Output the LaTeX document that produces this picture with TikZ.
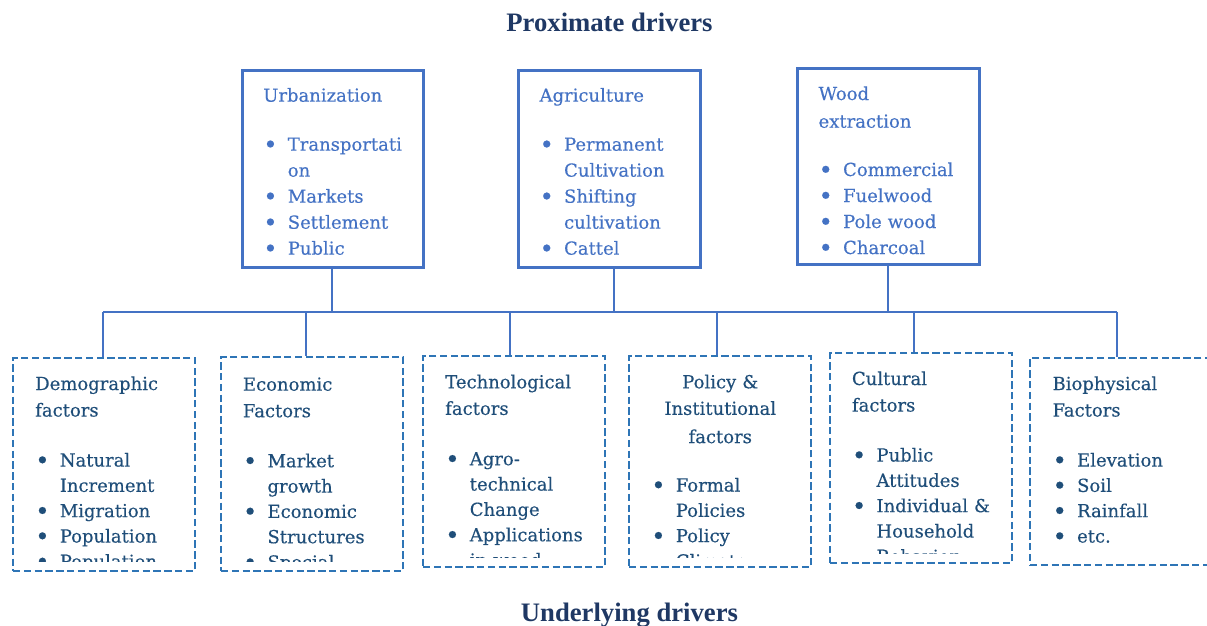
\documentclass[tikz,border=0pt]{standalone}
\usepackage{fontspec}
\setmainfont{DejaVu Serif}[RawFeature={embolden=0.35}]
\newfontfamily\headfont{Liberation Serif}

\definecolor{topblue}{HTML}{4472C4}
\definecolor{lowtext}{HTML}{1F4E79}
\definecolor{dashblue}{HTML}{2E75B6}
\definecolor{headblue}{HTML}{1F3864}

\def\pxu{0.75pt}
% bullet item, continuation line, centred heading line
\newcommand\itm[1]{\makebox[18.4pt][l]{\raisebox{-0.13em}{\scalebox{1.35}{\textbullet}}}#1}
\newcommand\cont[1]{\hspace*{18.4pt}#1}
\newcommand\ctr[1]{\makebox[\linewidth][c]{#1}}

\begin{document}
\begin{tikzpicture}[x=0.75pt,y=-0.75pt,
  topbox/.style={draw=topblue, line width=2.25pt, inner sep=0},
  lowbox/.style={draw=dashblue, line width=1.9pt, dash pattern=on 5.5pt off 2.6pt, inner sep=0},
  conn/.style={draw=topblue, line width=1.6pt},
  toptxt/.style={anchor=base west, inner sep=0, text width=127.5pt, align=left,
    font=\fontsize{13.5pt}{19.5pt}\selectfont, text=topblue},
  lowtxt/.style={anchor=base west, inner sep=0, text width=127.5pt, align=left,
    font=\fontsize{13.5pt}{19pt}\selectfont, text=lowtext},
  heading/.style={anchor=base, inner sep=0, text=headblue,
    font=\headfont\bfseries\fontsize{20pt}{24pt}\selectfont}]
\useasboundingbox (0,0) rectangle (1207,625);

% headings
\node[heading] (prox) at (609.5,31.7) {Proximate drivers};
\node[heading] (under) at (629.5,621.3) {Underlying drivers};

% proximate driver boxes
\node[topbox, minimum width=181*\pxu, minimum height=197*\pxu] (urb) at (332.5,168.5) {};
\node[topbox, minimum width=182*\pxu, minimum height=197*\pxu] (agr) at (609,168.5) {};
\node[topbox, minimum width=182*\pxu, minimum height=196*\pxu] (wood) at (888,166) {};

\node[toptxt] (urbtxt) at (263,101.7) {Urbanization\\[17.25pt]\itm{Transportati}\\\cont{on}\\\itm{Markets}\\\itm{Settlement}\\\itm{Public}};
\node[toptxt] (agrtxt) at (539.3,101.7) {Agriculture\\[17.25pt]\itm{Permanent}\\\cont{Cultivation}\\\itm{Shifting}\\\cont{cultivation}\\\itm{Cattel}};
\node[toptxt] (woodtxt) at (818.3,100) {Wood\\[1.3pt]extraction\\[16.7pt]\itm{Commercial}\\\itm{Fuelwood}\\\itm{Pole wood}\\\itm{Charcoal}};

% underlying driver boxes
\node[lowbox, minimum width=182*\pxu, minimum height=213*\pxu] (demo) at (104,464.5) {};
\node[lowbox, minimum width=182*\pxu, minimum height=214*\pxu] (econ) at (312,464) {};
\node[lowbox, minimum width=182*\pxu, minimum height=211*\pxu] (tech) at (514,461.5) {};
\node[lowbox, minimum width=182*\pxu, minimum height=211*\pxu] (pol) at (720,461.5) {};
\node[lowbox, minimum width=182*\pxu, minimum height=210*\pxu] (cult) at (921,458) {};
\node[lowbox, minimum width=182*\pxu, minimum height=207*\pxu] (bio) at (1121,461.5) {};

% box texts, cut off above the lower border
\begin{scope}
  \clip (demo.north west) rectangle ([yshift=8.25pt]demo.south east);
  \node[lowtxt] (demotxt) at (35,390) {Demographic\\[0.9pt]factors\\[18.5pt]\itm{Natural}\\\cont{Increment}\\\itm{Migration}\\\itm{Population}\\\itm{Population}};
\end{scope}
\begin{scope}
  \clip (econ.north west) rectangle ([yshift=8.25pt]econ.south east);
  \node[lowtxt] (econtxt) at (242.7,390.7) {Economic\\[0.9pt]Factors\\[18.5pt]\itm{Market}\\\cont{growth}\\\itm{Economic}\\\cont{Structures}\\\itm{Special}};
\end{scope}
\begin{scope}
  \clip (tech.north west) rectangle ([yshift=8.25pt]tech.south east);
  \node[lowtxt] (techtxt) at (445,388.3) {Technological\\[0.9pt]factors\\[18.8pt]\itm{Agro-}\\\cont{technical}\\\cont{Change}\\\itm{Applications}\\\cont{in wood}};
\end{scope}
\begin{scope}
  \clip (pol.north west) rectangle ([yshift=8.25pt]pol.south east);
  \node[lowtxt, text width=103.5pt] (poltxt) at (651,388.3) {\ctr{Policy \&}\\[0.9pt]\ctr{Institutional}\\[2.2pt]\ctr{factors}\\[17.3pt]\itm{Formal}\\\cont{Policies}\\\itm{Policy}\\\cont{Climate}};
\end{scope}
\begin{scope}
  \clip (cult.north west) rectangle ([yshift=8.25pt]cult.south east);
  \node[lowtxt] (culttxt) at (851.7,385) {Cultural\\[0.9pt]factors\\[18.5pt]\itm{Public}\\\cont{Attitudes}\\\itm{Individual \&}\\\cont{Household}\\\cont{Behavior}};
\end{scope}
\begin{scope}
  \clip (bio.north west) rectangle ([yshift=8.25pt]bio.south east);
  \node[lowtxt] (biotxt) at (1052.3,390) {Biophysical\\[0.9pt]Factors\\[18.5pt]\itm{Elevation}\\\itm{Soil}\\\itm{Rainfall}\\\itm{etc.}};
\end{scope}

% connector tree
\coordinate (t1) at (332,312);
\coordinate (t2) at (614,312);
\coordinate (t3) at (888,312);
\coordinate (u1) at (103,312);
\coordinate (u2) at (306,312);
\coordinate (u3) at (510,312);
\coordinate (u4) at (717,312);
\coordinate (u5) at (914,312);
\coordinate (u6) at (1117,312);

\draw[conn, line width=2pt] (u1) -- (u6);
\draw[conn] (t1 |- urb.south) -- (t1);
\draw[conn] (t2 |- agr.south) -- (t2);
\draw[conn] (t3 |- wood.south) -- (t3);
\draw[conn] (u1) -- (u1 |- demo.north);
\draw[conn] (u2) -- (u2 |- econ.north);
\draw[conn] (u3) -- (u3 |- tech.north);
\draw[conn] (u4) -- (u4 |- pol.north);
\draw[conn] (u5) -- (u5 |- cult.north);
\draw[conn] (u6) -- (u6 |- bio.north);
\end{tikzpicture}
\end{document}
